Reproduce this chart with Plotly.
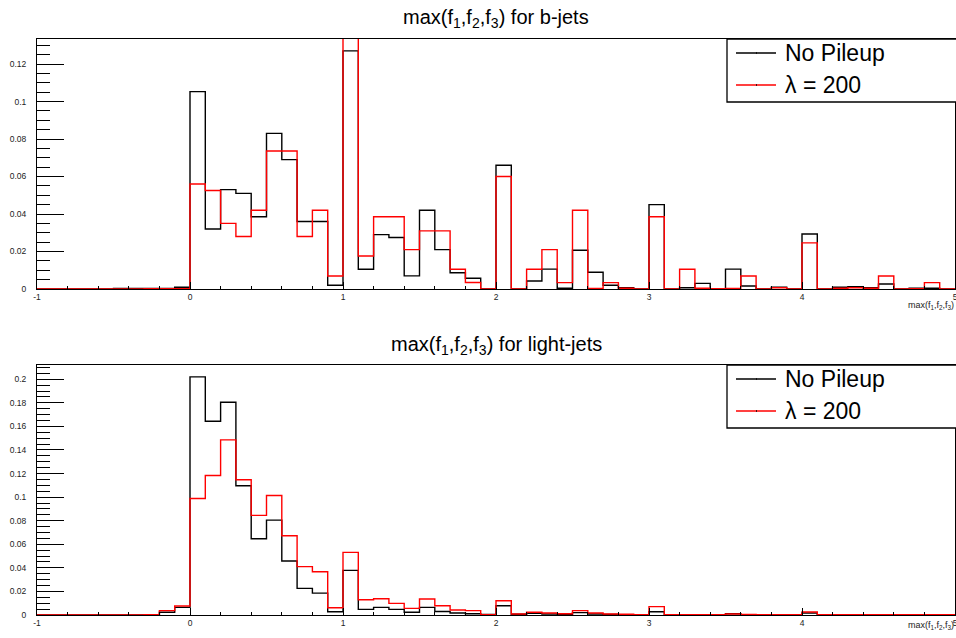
import numpy as np
import plotly.graph_objects as go

# ---------------- data ----------------
bin_edges = [round(-1.0 + 0.1 * i, 1) for i in range(61)]

b_nopileup = [0, 0, 0, 0, 0, 0.0003, 0.0003, 0.0003, 0.0003, 0.0009,
              0.1053, 0.032, 0.053, 0.051, 0.0385, 0.083, 0.069, 0.036, 0.036, 0.002,
              0.127, 0.0105, 0.029, 0.0275, 0.007, 0.042, 0.021, 0.0087, 0.0057, 0,
              0.066, 0, 0.0043, 0.0106, 0.0004, 0.0207, 0.0089, 0.002, 0.0007, 0,
              0.045, 0, 0.0007, 0.003, 0.0002, 0.0106, 0.0016, 0, 0.001, 0,
              0.0293, 0, 0.0009, 0.0012, 0.0007, 0.0027, 0, 0.0004, 0.0004, 0]
b_pileup200 = [0, 0, 0, 0, 0, 0, 0, 0.0002, 0.0002, 0.0002,
               0.056, 0.0525, 0.035, 0.028, 0.042, 0.0736, 0.0736, 0.028, 0.042, 0.0069,
               0.145, 0.0176, 0.0385, 0.0385, 0.021, 0.031, 0.031, 0.0105, 0.0035, 0,
               0.060, 0, 0.0105, 0.021, 0.0034, 0.042, 0.0003, 0.0034, 0.0004, 0,
               0.0385, 0, 0.0105, 0.0004, 0.0002, 0.0003, 0.0069, 0, 0.0007, 0,
               0.0246, 0, 0.0004, 0.0007, 0.0004, 0.0069, 0, 0.0002, 0.0034, 0]

l_nopileup = [0, 0, 0, 0, 0, 0, 0, 0.0001, 0.0023, 0.0065,
              0.202, 0.1644, 0.1805, 0.1096, 0.0647, 0.0805, 0.0458, 0.0226, 0.0186, 0.0028,
              0.0379, 0.0048, 0.0065, 0.0048, 0.0023, 0.0065, 0.003, 0.0017, 0.001, 0.0005,
              0.0079, 0.0006, 0.0014, 0.0008, 0.0006, 0.002, 0.0008, 0.0005, 0.0003, 0.0002,
              0.0028, 0.0002, 0.0002, 0.0002, 0.0001, 0.0011, 0.0003, 0.0002, 0.0002, 0.0001,
              0.0017, 0.0001, 0.0001, 0.0001, 0.0001, 0.0001, 0.0001, 0.0001, 0.0001, 0.0001]
l_pileup200 = [0, 0, 0, 0, 0, 0, 0, 0.0003, 0.0037, 0.0076,
               0.0989, 0.1184, 0.1486, 0.1147, 0.0845, 0.1014, 0.0672, 0.041, 0.0367, 0.0062,
               0.0531, 0.013, 0.0138, 0.0099, 0.0056, 0.0136, 0.0079, 0.0042, 0.0037, 0.0003,
               0.0121, 0.0009, 0.0023, 0.0017, 0.0011, 0.0037, 0.0017, 0.0009, 0.0006, 0.0003,
               0.0071, 0.0003, 0.0003, 0.0003, 0.0003, 0.0008, 0.0005, 0.0003, 0.0003, 0.0003,
               0.0025, 0.0002, 0.0002, 0.0002, 0.0003, 0.0002, 0.0002, 0.0002, 0.0002, 0.0002]

x_ticks = [-1, 0, 1, 2, 3, 4, 5]
x_ticklabels = ["-1", "0", "1", "2", "3", "4", "5"]
top_yticks = [0, 0.02, 0.04, 0.06, 0.08, 0.1, 0.12]
top_yticklabels = ["0", "0.02", "0.04", "0.06", "0.08", "0.1", "0.12"]
bot_yticks = [0, 0.02, 0.04, 0.06, 0.08, 0.1, 0.12, 0.14, 0.16, 0.18, 0.2]
bot_yticklabels = ["0", "0.02", "0.04", "0.06", "0.08", "0.1", "0.12", "0.14", "0.16", "0.18", "0.2"]

series_names = ["No Pileup", "λ = 200"]
series_colors = ["#000000", "#ff0000"]
titles = ["max(f<sub>1</sub>,f<sub>2</sub>,f<sub>3</sub>) for b-jets",
          "max(f<sub>1</sub>,f<sub>2</sub>,f<sub>3</sub>) for light-jets"]
axis_title = "max(f<sub>1</sub>,f<sub>2</sub>,f<sub>3</sub>)"

# ---------------- figure ----------------
W, H = 956, 638
ML, MR = 37, 1
PW = W - ML - MR
FONT = "Liberation Sans, Arial, Helvetica, sans-serif"


def px_x(p):
    return (p - ML) / PW


def px_y(p):
    return (H - p) / H


def step(vals):
    return list(bin_edges), list(vals) + [vals[-1]]


fig = go.Figure()
panels = [
    ("x", "y", b_nopileup, b_pileup200),
    ("x2", "y2", l_nopileup, l_pileup200),
]
for xa, ya, v0, v1 in panels:
    for vals, name, col in zip([v0, v1], series_names, series_colors):
        xs, ys = step(vals)
        fig.add_trace(go.Scatter(x=xs, y=ys, mode="lines", line=dict(color=col, width=1.4, shape="hv"),
                                 name=name, xaxis=xa, yaxis=ya, showlegend=False, hoverinfo="skip"))

top_frame = (39, 289)
bot_frame = (365, 615)

xcommon = dict(range=[-1, 5], showgrid=False, zeroline=False, showline=True, linecolor="black",
               linewidth=1, mirror=True, ticks="inside", ticklen=7, tickcolor="black",
               tickvals=x_ticks, ticktext=x_ticklabels, automargin=False, ticklabeloverflow="allow",
               tickfont=dict(family=FONT, size=8.5, color="#222"),
               minor=dict(dtick=0.2, tick0=-1, ticks="inside", ticklen=3, tickcolor="black", showgrid=False))
ycommon = dict(showgrid=False, zeroline=False, showline=True, linecolor="black", linewidth=1,
               mirror=True, ticks="inside", ticklen=27, tickcolor="black", automargin=False,
               tickfont=dict(family=FONT, size=8.5, color="#222"), ticklabelstandoff=8,
               minor=dict(dtick=0.005, tick0=0, ticks="inside", ticklen=13, tickcolor="black", showgrid=False))

top_ymax = 1.05 * max(b_nopileup)
bot_ymax = 1.05 * max(l_nopileup)

fig.update_layout(
    width=W, height=H, autosize=False,
    margin=dict(l=ML, r=MR, t=0, b=0, autoexpand=False),
    paper_bgcolor="white", plot_bgcolor="white",
    xaxis=dict(domain=[0, 1], anchor="y", **xcommon),
    yaxis=dict(domain=[px_y(top_frame[1]), px_y(top_frame[0])], anchor="x", range=[0, top_ymax],
               tickvals=top_yticks, ticktext=top_yticklabels, **ycommon),
    xaxis2=dict(domain=[0, 1], anchor="y2", **xcommon),
    yaxis2=dict(domain=[px_y(bot_frame[1]), px_y(bot_frame[0])], anchor="x2", range=[0, bot_ymax],
                tickvals=bot_yticks, ticktext=bot_yticklabels, **ycommon),
    showlegend=False,
)

shapes = []
annotations = []
for idx, (ftop, fbot) in enumerate([top_frame, bot_frame]):
    # title
    annotations.append(dict(text=titles[idx], x=0.5, y=px_y(ftop - 20), xref="paper", yref="paper",
                            xanchor="center", yanchor="middle", showarrow=False,
                            font=dict(family=FONT, size=20, color="black")))
    # x-axis title
    annotations.append(dict(text=axis_title, x=px_x(956), y=px_y(fbot + (16 if idx == 0 else 10)),
                            xref="paper", yref="paper",
                            xanchor="right", yanchor="middle", showarrow=False,
                            font=dict(family=FONT, size=9, color="#222")))
    # legend box
    box_top = ftop
    box_bot = ftop + 63
    shapes.append(dict(type="rect", xref="paper", yref="paper", x0=px_x(727), x1=px_x(962),
                       y0=px_y(box_bot), y1=px_y(box_top), line=dict(color="black", width=1.3),
                       fillcolor="white", layer="above"))
    rows = [ftop + 14, ftop + 46]
    for r, name, col in zip(rows, series_names, series_colors):
        shapes.append(dict(type="line", xref="paper", yref="paper", x0=px_x(736), x1=px_x(776),
                           y0=px_y(r), y1=px_y(r), line=dict(color=col, width=1.3), layer="above"))
        shapes.append(dict(type="line", xref="paper", yref="paper", x0=px_x(756), x1=px_x(757),
                           y0=px_y(r), y1=px_y(r), line=dict(color="black", width=1.5), layer="above"))
        annotations.append(dict(text=name, x=px_x(783), y=px_y(r), xref="paper", yref="paper",
                                xanchor="left", yanchor="middle", showarrow=False,
                                font=dict(family=FONT, size=23, color="black")))

fig.update_layout(shapes=shapes, annotations=annotations)
fig.write_html("out.html", config={"displayModeBar": False},
               post_script="document.body.style.margin='0px';document.body.style.overflow='hidden';")
